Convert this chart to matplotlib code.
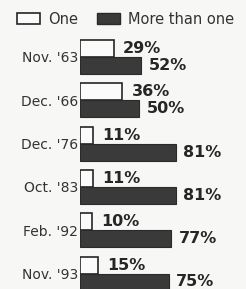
import matplotlib.pyplot as plt
from matplotlib.patches import Patch

DATES = ["Nov. '63", "Dec. '66", "Dec. '76", "Oct. '83", "Feb. '92", "Nov. '93"]
ONE = [29, 36, 11, 11, 10, 15]
MORE = [52, 50, 81, 81, 77, 75]

BG = '#f7f7f5'
DARK = '#3a3a3a'
INK = '#262626'

W, H = 246, 289
fig = plt.figure(figsize=(W / 100, H / 100), dpi=100, facecolor=BG)

# bar area: zero line at x=80px, 1.18 px per percent; rows 43.3 px apart, first at 57px
x0 = 80
px_per = 1.18
row0, row_gap = 57, 43.3
ax = fig.add_axes([x0 / W, 0, 1 - x0 / W, 1])
ax.set_facecolor(BG)
ax.set_xlim(0, (W - x0) / px_per)
ax.set_ylim((H - row0) / row_gap, -row0 / row_gap)

bh = 17 / row_gap
ys = list(range(len(DATES)))
ax.barh([y - bh / 2 for y in ys], ONE, height=bh, color='#fbfbfb',
        edgecolor=INK, linewidth=1.2)
ax.barh([y + bh / 2 for y in ys], MORE, height=bh, color=DARK,
        edgecolor='#2a2a2a', linewidth=0.8)

for y, a, b in zip(ys, ONE, MORE):
    ax.annotate(f'{a}%', (a, y - bh / 2), xytext=(6.5, 0), textcoords='offset points',
                va='center', ha='left', fontsize=11.5, fontweight='bold', color=INK)
    ax.annotate(f'{b}%', (b, y + bh / 2), xytext=(5.5, 0), textcoords='offset points',
                va='center', ha='left', fontsize=11.5, fontweight='bold', color=INK)

ax.set_yticks(ys)
ax.set_yticklabels(DATES, fontsize=10, color='#333333')
ax.tick_params(axis='y', length=0, pad=1.5)
ax.set_xticks([])
for s in ax.spines.values():
    s.set_visible(False)

fig.legend(
    handles=[
        Patch(facecolor='#fbfbfb', edgecolor=INK, linewidth=1.2, label='One'),
        Patch(facecolor=DARK, edgecolor='#2a2a2a', label='More than one'),
    ],
    loc='center left', bbox_to_anchor=(4 / W, 1 - 19 / H), ncol=2, frameon=False,
    fontsize=10.5, handlelength=1.6, handleheight=0.8, handletextpad=0.55,
    columnspacing=1.25, labelcolor='#333333',
)

fig.savefig('out.png', dpi=100, facecolor=BG)
